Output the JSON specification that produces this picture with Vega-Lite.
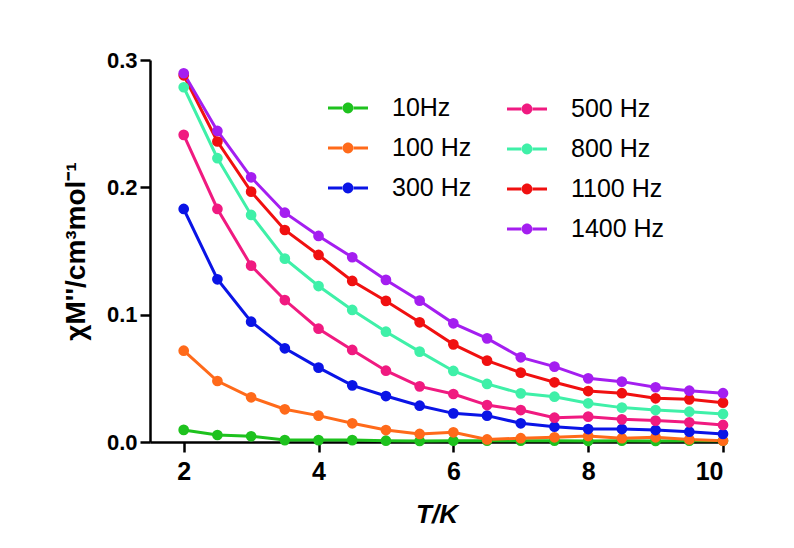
{
  "$schema": "https://vega.github.io/schema/vega-lite/v6.json",
  "autosize": {"type": "none"},
  "width": 573,
  "height": 382,
  "padding": {"left": 150, "top": 60, "right": 71, "bottom": 106},
  "background": "white",
  "config": {
    "view": {"stroke": null},
    "axis": {
      "grid": false,
      "domainColor": "black",
      "domainWidth": 2.5,
      "tickColor": "black",
      "tickWidth": 2.5,
      "tickSize": 10,
      "labelFont": "Liberation Sans",
      "labelFontWeight": "bold",
      "labelColor": "black",
      "titleFont": "Liberation Sans",
      "titleFontWeight": "bold",
      "titleColor": "black"
    },
    "legend": {
      "orient": "none",
      "direction": "vertical",
      "labelFont": "Liberation Sans",
      "labelFontSize": 25,
      "labelColor": "black",
      "labelOffset": 24,
      "rowPadding": 7,
      "symbolSize": 1600,
      "symbolStrokeWidth": 0,
      "symbolType": "M-1,-0.075H-0.25V0.075H-1Z M0.25,-0.075H1V0.075H0.25Z M-0.27,0 A0.27,0.27 0 1,0 0.27,0 A0.27,0.27 0 1,0 -0.27,0 Z"
    }
  },
  "datasets": {
    "d": [
      {"T": 2, "chi": 0.0095, "f": "10Hz"}, {"T": 2.5, "chi": 0.0055, "f": "10Hz"}, {"T": 3, "chi": 0.0045, "f": "10Hz"}, {"T": 3.5, "chi": 0.0015, "f": "10Hz"}, {"T": 4, "chi": 0.0015, "f": "10Hz"}, {"T": 4.5, "chi": 0.0015, "f": "10Hz"}, {"T": 5, "chi": 0.001, "f": "10Hz"}, {"T": 5.5, "chi": 0.0008, "f": "10Hz"}, {"T": 6, "chi": 0.001, "f": "10Hz"}, {"T": 6.5, "chi": 0.001, "f": "10Hz"}, {"T": 7, "chi": 0.001, "f": "10Hz"}, {"T": 7.5, "chi": 0.001, "f": "10Hz"}, {"T": 8, "chi": 0.0008, "f": "10Hz"}, {"T": 8.5, "chi": 0.001, "f": "10Hz"}, {"T": 9, "chi": 0.0008, "f": "10Hz"}, {"T": 9.5, "chi": 0.001, "f": "10Hz"}, {"T": 10, "chi": 0.001, "f": "10Hz"},
      {"T": 2, "chi": 0.0717, "f": "100 Hz"}, {"T": 2.5, "chi": 0.0479, "f": "100 Hz"}, {"T": 3, "chi": 0.0351, "f": "100 Hz"}, {"T": 3.5, "chi": 0.0257, "f": "100 Hz"}, {"T": 4, "chi": 0.0207, "f": "100 Hz"}, {"T": 4.5, "chi": 0.0147, "f": "100 Hz"}, {"T": 5, "chi": 0.0094, "f": "100 Hz"}, {"T": 5.5, "chi": 0.0063, "f": "100 Hz"}, {"T": 6, "chi": 0.0076, "f": "100 Hz"}, {"T": 6.5, "chi": 0.002, "f": "100 Hz"}, {"T": 7, "chi": 0.003, "f": "100 Hz"}, {"T": 7.5, "chi": 0.0037, "f": "100 Hz"}, {"T": 8, "chi": 0.0047, "f": "100 Hz"}, {"T": 8.5, "chi": 0.003, "f": "100 Hz"}, {"T": 9, "chi": 0.0037, "f": "100 Hz"}, {"T": 9.5, "chi": 0.002, "f": "100 Hz"}, {"T": 10, "chi": 0.001, "f": "100 Hz"},
      {"T": 2, "chi": 0.183, "f": "300 Hz"}, {"T": 2.5, "chi": 0.1278, "f": "300 Hz"}, {"T": 3, "chi": 0.0945, "f": "300 Hz"}, {"T": 3.5, "chi": 0.0736, "f": "300 Hz"}, {"T": 4, "chi": 0.0584, "f": "300 Hz"}, {"T": 4.5, "chi": 0.0445, "f": "300 Hz"}, {"T": 5, "chi": 0.0361, "f": "300 Hz"}, {"T": 5.5, "chi": 0.0285, "f": "300 Hz"}, {"T": 6, "chi": 0.0225, "f": "300 Hz"}, {"T": 6.5, "chi": 0.0207, "f": "300 Hz"}, {"T": 7, "chi": 0.0147, "f": "300 Hz"}, {"T": 7.5, "chi": 0.012, "f": "300 Hz"}, {"T": 8, "chi": 0.0102, "f": "300 Hz"}, {"T": 8.5, "chi": 0.0102, "f": "300 Hz"}, {"T": 9, "chi": 0.0094, "f": "300 Hz"}, {"T": 9.5, "chi": 0.0081, "f": "300 Hz"}, {"T": 10, "chi": 0.0063, "f": "300 Hz"},
      {"T": 2, "chi": 0.2412, "f": "500 Hz"}, {"T": 2.5, "chi": 0.183, "f": "500 Hz"}, {"T": 3, "chi": 0.1385, "f": "500 Hz"}, {"T": 3.5, "chi": 0.1115, "f": "500 Hz"}, {"T": 4, "chi": 0.089, "f": "500 Hz"}, {"T": 4.5, "chi": 0.0723, "f": "500 Hz"}, {"T": 5, "chi": 0.056, "f": "500 Hz"}, {"T": 5.5, "chi": 0.0437, "f": "500 Hz"}, {"T": 6, "chi": 0.0377, "f": "500 Hz"}, {"T": 6.5, "chi": 0.029, "f": "500 Hz"}, {"T": 7, "chi": 0.0251, "f": "500 Hz"}, {"T": 7.5, "chi": 0.0191, "f": "500 Hz"}, {"T": 8, "chi": 0.0199, "f": "500 Hz"}, {"T": 8.5, "chi": 0.0178, "f": "500 Hz"}, {"T": 9, "chi": 0.0168, "f": "500 Hz"}, {"T": 9.5, "chi": 0.0155, "f": "500 Hz"}, {"T": 10, "chi": 0.0134, "f": "500 Hz"},
      {"T": 2, "chi": 0.2786, "f": "800 Hz"}, {"T": 2.5, "chi": 0.2229, "f": "800 Hz"}, {"T": 3, "chi": 0.1783, "f": "800 Hz"}, {"T": 3.5, "chi": 0.144, "f": "800 Hz"}, {"T": 4, "chi": 0.1225, "f": "800 Hz"}, {"T": 4.5, "chi": 0.1037, "f": "800 Hz"}, {"T": 5, "chi": 0.0866, "f": "800 Hz"}, {"T": 5.5, "chi": 0.071, "f": "800 Hz"}, {"T": 6, "chi": 0.0558, "f": "800 Hz"}, {"T": 6.5, "chi": 0.0456, "f": "800 Hz"}, {"T": 7, "chi": 0.0382, "f": "800 Hz"}, {"T": 7.5, "chi": 0.0356, "f": "800 Hz"}, {"T": 8, "chi": 0.0304, "f": "800 Hz"}, {"T": 8.5, "chi": 0.027, "f": "800 Hz"}, {"T": 9, "chi": 0.0251, "f": "800 Hz"}, {"T": 9.5, "chi": 0.0238, "f": "800 Hz"}, {"T": 10, "chi": 0.022, "f": "800 Hz"},
      {"T": 2, "chi": 0.288, "f": "1100 Hz"}, {"T": 2.5, "chi": 0.236, "f": "1100 Hz"}, {"T": 3, "chi": 0.1966, "f": "1100 Hz"}, {"T": 3.5, "chi": 0.1665, "f": "1100 Hz"}, {"T": 4, "chi": 0.1469, "f": "1100 Hz"}, {"T": 4.5, "chi": 0.1265, "f": "1100 Hz"}, {"T": 5, "chi": 0.1108, "f": "1100 Hz"}, {"T": 5.5, "chi": 0.094, "f": "1100 Hz"}, {"T": 6, "chi": 0.0767, "f": "1100 Hz"}, {"T": 6.5, "chi": 0.0639, "f": "1100 Hz"}, {"T": 7, "chi": 0.0545, "f": "1100 Hz"}, {"T": 7.5, "chi": 0.0469, "f": "1100 Hz"}, {"T": 8, "chi": 0.04, "f": "1100 Hz"}, {"T": 8.5, "chi": 0.0383, "f": "1100 Hz"}, {"T": 9, "chi": 0.0343, "f": "1100 Hz"}, {"T": 9.5, "chi": 0.0335, "f": "1100 Hz"}, {"T": 10, "chi": 0.0309, "f": "1100 Hz"},
      {"T": 2, "chi": 0.2896, "f": "1400 Hz"}, {"T": 2.5, "chi": 0.2443, "f": "1400 Hz"}, {"T": 3, "chi": 0.2079, "f": "1400 Hz"}, {"T": 3.5, "chi": 0.1801, "f": "1400 Hz"}, {"T": 4, "chi": 0.1618, "f": "1400 Hz"}, {"T": 4.5, "chi": 0.1451, "f": "1400 Hz"}, {"T": 5, "chi": 0.1273, "f": "1400 Hz"}, {"T": 5.5, "chi": 0.111, "f": "1400 Hz"}, {"T": 6, "chi": 0.0932, "f": "1400 Hz"}, {"T": 6.5, "chi": 0.0814, "f": "1400 Hz"}, {"T": 7, "chi": 0.0665, "f": "1400 Hz"}, {"T": 7.5, "chi": 0.0592, "f": "1400 Hz"}, {"T": 8, "chi": 0.05, "f": "1400 Hz"}, {"T": 8.5, "chi": 0.0474, "f": "1400 Hz"}, {"T": 9, "chi": 0.043, "f": "1400 Hz"}, {"T": 9.5, "chi": 0.0403, "f": "1400 Hz"}, {"T": 10, "chi": 0.0383, "f": "1400 Hz"}
    ]
  },
  "data": {"name": "d"},
  "encoding": {
    "x": {"field": "T", "type": "quantitative", "scale": {"domain": [1.5, 10], "nice": false, "zero": false},
      "axis": {"values": [2, 4, 6, 8, 10], "title": "T/K", "titleFontStyle": "italic", "titleFontSize": 26, "titlePadding": 17, "labelFontSize": 25, "labelPadding": 7}},
    "y": {"field": "chi", "type": "quantitative", "scale": {"domain": [0, 0.3], "nice": false},
      "axis": {"values": [0, 0.1, 0.2, 0.3], "format": ".1f", "title": "χM''/cm³mol⁻¹", "titleFontSize": 28, "titlePadding": 16, "labelFontSize": 22, "labelPadding": 3}}
  },
  "layer": [
    {
      "transform": [{"filter": {"field": "f", "oneOf": ["10Hz", "100 Hz", "300 Hz"]}}],
      "mark": {"type": "line", "strokeWidth": 3},
      "encoding": {"stroke": {"field": "f", "type": "nominal", "legend": null,
        "scale": {"domain": ["10Hz", "100 Hz", "300 Hz"], "range": ["#1ec21e", "#ff6a1a", "#0a14e6"]}}}
    },
    {
      "transform": [{"filter": {"field": "f", "oneOf": ["10Hz", "100 Hz", "300 Hz"]}}],
      "mark": {"type": "point", "filled": true, "opacity": 1, "size": 115},
      "encoding": {"color": {"field": "f", "type": "nominal",
        "scale": {"domain": ["10Hz", "100 Hz", "300 Hz"], "range": ["#1ec21e", "#ff6a1a", "#0a14e6"]},
        "legend": {"title": null, "legendX": 178, "legendY": 28}}}
    },
    {
      "transform": [{"filter": {"field": "f", "oneOf": ["500 Hz", "800 Hz", "1100 Hz", "1400 Hz"]}}],
      "mark": {"type": "line", "strokeWidth": 3},
      "encoding": {"stroke": {"field": "f", "type": "nominal", "legend": null,
        "scale": {"domain": ["500 Hz", "800 Hz", "1100 Hz", "1400 Hz"], "range": ["#f01a80", "#3ff0a8", "#f01010", "#a41ef0"]}}}
    },
    {
      "transform": [{"filter": {"field": "f", "oneOf": ["500 Hz", "800 Hz", "1100 Hz", "1400 Hz"]}}],
      "mark": {"type": "point", "filled": true, "opacity": 1, "size": 115},
      "encoding": {"color": {"field": "f", "type": "nominal",
        "scale": {"domain": ["500 Hz", "800 Hz", "1100 Hz", "1400 Hz"], "range": ["#f01a80", "#3ff0a8", "#f01010", "#a41ef0"]},
        "legend": {"title": null, "legendX": 357, "legendY": 29}}}
    }
  ],
  "resolve": {"scale": {"color": "independent", "stroke": "independent"}, "legend": {"color": "independent", "stroke": "independent"}}
}
